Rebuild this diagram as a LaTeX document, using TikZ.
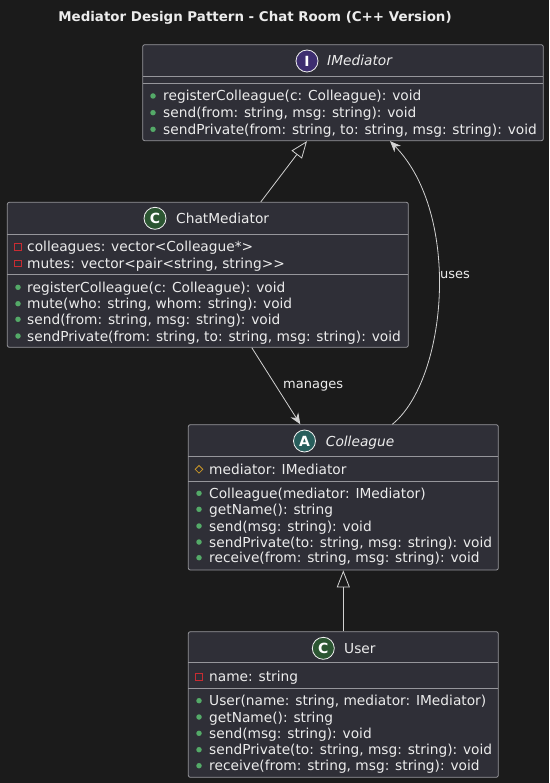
\documentclass[tikz,border=0pt]{standalone}
\usepackage{fontspec}
\setmainfont{DejaVu Sans}
\usetikzlibrary{arrows.meta,calc,shapes.geometric}
\definecolor{bg}{RGB}{27,27,27}
\definecolor{boxfill}{RGB}{47,47,55}
\definecolor{boxline}{RGB}{150,150,155}
\definecolor{txt}{RGB}{236,236,236}
\definecolor{lnk}{RGB}{210,210,210}
\definecolor{pubc}{RGB}{84,170,104}
\definecolor{privc}{RGB}{200,44,50}
\definecolor{protc}{RGB}{200,150,40}
\definecolor{icI}{RGB}{62,46,112}
\definecolor{icC}{RGB}{44,86,50}
\definecolor{icA}{RGB}{40,94,92}
\tikzset{
  umlbox/.style={draw=boxline,fill=boxfill,rounded corners=2pt,line width=0.8pt,inner sep=0pt},
  sepline/.style={draw=boxline,line width=0.7pt},
  member/.style={anchor=base west,inner sep=0pt,text=txt,font=\fontsize{13.75}{16.5}\selectfont},
  clsname/.style={anchor=base west,inner sep=0pt,text=txt,font=\fontsize{13.75}{16.5}\selectfont},
  icon/.style={circle,draw=txt!80,line width=0.8pt,minimum size=22pt,inner sep=0pt,text=white,font=\fontsize{14}{14}\selectfont\bfseries},
  pub/.style={circle,fill=pubc,minimum size=5.5pt,inner sep=0pt},
  priv/.style={rectangle,draw=privc,line width=0.8pt,minimum size=6.5pt,inner sep=0pt},
  prot/.style={diamond,draw=protc,line width=0.8pt,minimum size=8pt,inner sep=0pt},
  lbl/.style={text=txt,inner sep=0pt,font=\fontsize{13}{13}\selectfont},
  conn/.style={draw=lnk,line width=0.8pt},
  inh/.style={conn,-{Triangle[open,length=17pt,width=13pt]}},
  arr/.style={conn,-{Stealth[length=11pt,width=9pt,inset=3.5pt]}},
}
\begin{document}
\begin{tikzpicture}[x=1pt,y=-1pt]
\fill[bg] (0,0) rectangle (549,783);
\useasboundingbox (0,0) rectangle (549,783);

\node[text=txt,font=\fontsize{13.4}{14}\selectfont\bfseries,inner sep=0pt] (title) at (255,18) {Mediator Design Pattern - Chat Room (C++ Version)};

% ---------- IMediator ----------
\node[umlbox,minimum width=400.6pt,minimum height=96pt] (im) at (343,92.7) {};
\draw[sepline] (142.7,76.5) -- (543.3,76.5);
\draw[sepline] (142.7,83.7) -- (543.3,83.7);
\node[icon,fill=icI] (imicon) at (307,61) {I};
\node[clsname,font=\fontsize{13.75}{16.5}\selectfont\itshape] (imname) at (327,66) {IMediator};
\node[pub] (imb1) at (153,96) {};
\node[pub] (imb2) at (153,112.7) {};
\node[pub] (imb3) at (153,129.3) {};
\node[member] (imm1) at (163,101) {registerColleague(c: Colleague): void};
\node[member] (imm2) at (163,117.7) {send(from: string, msg: string): void};
\node[member] (imm3) at (163,134.3) {sendPrivate(from: string, to: string, msg: string): void};

% ---------- ChatMediator ----------
\node[umlbox,minimum width=401pt,minimum height=145pt] (cm) at (207.8,274.8) {};
\draw[sepline] (7.3,234.3) -- (408.3,234.3);
\draw[sepline] (7.3,274.3) -- (408.3,274.3);
\node[icon,fill=icC] (cmicon) at (155,218.3) {C};
\node[clsname] (cmname) at (176,223.3) {ChatMediator};
\node[priv] (cmp1) at (18,246.7) {};
\node[priv] (cmp2) at (18,263.3) {};
\node[member] (cma1) at (27,251.7) {colleagues: vector<Colleague*>};
\node[member] (cma2) at (27,268.3) {mutes: vector<pair<string, string>{}>};
\node[pub] (cmb1) at (18,287.3) {};
\node[pub] (cmb2) at (18,303.7) {};
\node[pub] (cmb3) at (18,319.3) {};
\node[pub] (cmb4) at (18,336) {};
\node[member] (cmm1) at (27,292.3) {registerColleague(c: Colleague): void};
\node[member] (cmm2) at (27,308.7) {mute(who: string, whom: string): void};
\node[member] (cmm3) at (27,324.3) {send(from: string, msg: string): void};
\node[member] (cmm4) at (27,341) {sendPrivate(from: string, to: string, msg: string): void};

% ---------- Colleague ----------
\node[umlbox,minimum width=310pt,minimum height=145.3pt] (col) at (343.3,497.35) {};
\draw[sepline] (188.3,456) -- (498.3,456);
\draw[sepline] (188.3,481.3) -- (498.3,481.3);
\node[icon,fill=icA] (colicon) at (304.5,441) {A};
\node[clsname,font=\fontsize{13.75}{16.5}\selectfont\itshape] (colname) at (325.7,446) {Colleague};
\node[prot] (colp1) at (199,469.3) {};
\node[member] (cola1) at (209,474.3) {mediator: IMediator};
\node[pub] (colb1) at (199,493.3) {};
\node[pub] (colb2) at (199,509.3) {};
\node[pub] (colb3) at (199,526) {};
\node[pub] (colb4) at (199,542) {};
\node[pub] (colb5) at (199,557.7) {};
\node[member] (colm1) at (209,498.3) {Colleague(mediator: IMediator)};
\node[member] (colm2) at (209,514.3) {getName(): string};
\node[member] (colm3) at (209,531) {send(msg: string): void};
\node[member] (colm4) at (209,547) {sendPrivate(to: string, msg: string): void};
\node[member] (colm5) at (209,562.7) {receive(from: string, msg: string): void};

% ---------- User ----------
\node[umlbox,minimum width=310pt,minimum height=145.6pt] (us) at (343.3,704.5) {};
\draw[sepline] (188.3,662.7) -- (498.3,662.7);
\draw[sepline] (188.3,688.3) -- (498.3,688.3);
\node[icon,fill=icC] (usicon) at (323.3,648.3) {C};
\node[clsname] (usname) at (344,653.3) {User};
\node[priv] (usp1) at (199,676.7) {};
\node[member] (usa1) at (209,681.7) {name: string};
\node[pub] (usb1) at (199,700.7) {};
\node[pub] (usb2) at (199,717) {};
\node[pub] (usb3) at (199,733.3) {};
\node[pub] (usb4) at (199,749.7) {};
\node[pub] (usb5) at (199,765.7) {};
\node[member] (usm1) at (209,705.7) {User(name: string, mediator: IMediator)};
\node[member] (usm2) at (209,722) {getName(): string};
\node[member] (usm3) at (209,738.3) {send(msg: string): void};
\node[member] (usm4) at (209,754.7) {sendPrivate(to: string, msg: string): void};
\node[member] (usm5) at (209,770.7) {receive(from: string, msg: string): void};

% ---------- connectors ----------
\draw[inh] ([xshift=53pt]cm.north) -- ([xshift=-36pt]im.south);
\draw[arr] ([xshift=44pt]cm.south) -- ([xshift=-43pt]col.north);
\node[lbl,anchor=west] (lmanages) at (283,386) {manages};
\draw[arr] ([xshift=49pt]col.north) .. controls (447,380) and (462,215) .. ([xshift=47pt]im.south);
\node[lbl,anchor=west] (luses) at (440,275) {uses};
\draw[inh] (us.north) -- (col.south);
\end{tikzpicture}
\end{document}
